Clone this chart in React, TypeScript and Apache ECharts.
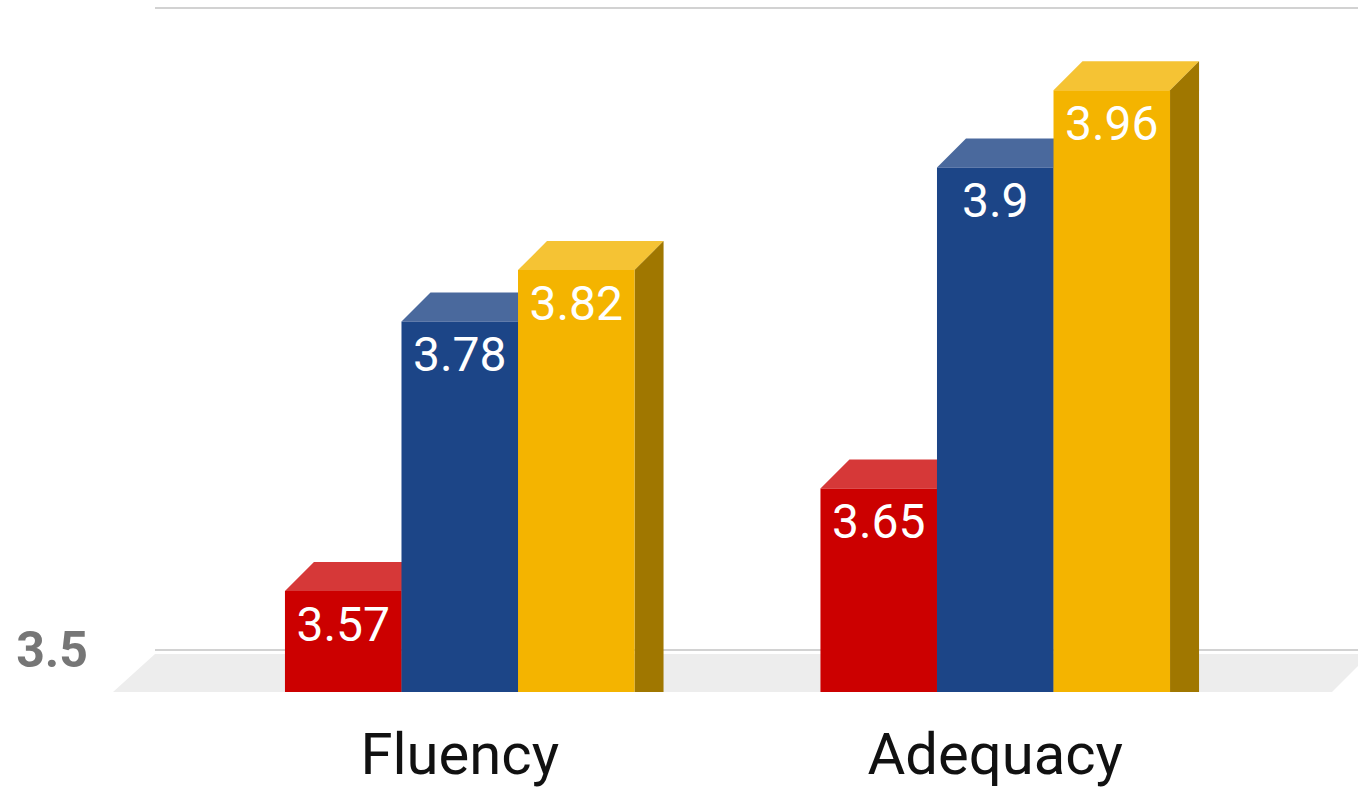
import React, { useEffect, useRef } from "react";
import * as echarts from "echarts";

// Categories and scores
const categories = ["Fluency", "Adequacy"];
const seriesNames = ["Series 1", "Series 2", "Series 3"];
const redValues = [3.57, 3.65];
const blueValues = [3.78, 3.9];
const yellowValues = [3.82, 3.96];
const yMin = 3.5;
const yMax = 4.0;
const yTicks = [3.5, 4.0];

// Face colours for each bar: front, top, side
const palettes = [
  { front: "#CC0000", top: "#D63838", side: "#8E0000" },
  { front: "#1C4587", top: "#4A699D", side: "#132F5D" },
  { front: "#F4B400", top: "#F5C334", side: "#A07700" },
];

const DEPTH = 29; // 3D extrusion of the bars (px)
const BAR_FRACTION = 0.2176; // front face width as share of a category band
const FLOOR_LIP = 11; // floor front edge below the front-plane baseline

function makeBarRenderer(idx: number) {
  const pal = palettes[idx];
  return (params: any, api: any) => {
    const cat = api.value(0);
    const v = api.value(1);
    const top = api.coord([cat, v]);
    const base = api.coord([cat, yMin]);
    const band = api.size([1, 0])[0];
    const w = band * BAR_FRACTION;
    const x0 = top[0] - 1.5 * w + idx * w;
    const x1 = x0 + w;
    const yTop = top[1];
    const yBot = base[1] + FLOOR_LIP;
    const d = DEPTH;
    return {
      type: "group",
      children: [
        {
          type: "polygon",
          shape: { points: [[x0, yTop], [x0 + d, yTop - d], [x1 + d, yTop - d], [x1, yTop]] },
          style: { fill: pal.top },
        },
        {
          type: "polygon",
          shape: { points: [[x1, yTop], [x1 + d, yTop - d], [x1 + d, yBot], [x1, yBot]] },
          style: { fill: pal.side },
        },
        {
          type: "rect",
          shape: { x: x0, y: yTop, width: w, height: yBot - yTop },
          style: { fill: pal.front },
        },
        {
          type: "text",
          style: {
            text: String(v),
            x: x0 + w / 2,
            y: yTop + 9,
            align: "center",
            verticalAlign: "top",
            fill: "#FFFFFF",
            fontFamily: "Roboto",
            fontSize: 48,
          },
        },
      ],
    };
  };
}

// Grey floor slab under the bars
function renderFloor(params: any, api: any) {
  const cs = params.coordSys;
  const base = api.coord([0, yMin]);
  const yFront = base[1] + FLOOR_LIP;
  const yBack = base[1] - 27;
  const left = cs.x;
  const right = cs.x + cs.width;
  return {
    type: "polygon",
    shape: {
      points: [
        [left - 79, yFront],
        [right + 69, yFront],
        [right + 107, yBack],
        [left - 37, yBack],
      ],
    },
    style: { fill: "#EDEDED" },
  };
}

export default function App() {
  const ref = useRef<HTMLDivElement>(null);

  useEffect(() => {
    if (!ref.current) return;
    const chart = echarts.init(ref.current, null, { renderer: "svg" });
    const valueSets = [redValues, blueValues, yellowValues];
    chart.setOption({
      animation: false,
      backgroundColor: "#FFFFFF",
      textStyle: { fontFamily: "Roboto" },
      grid: [
        // back wall: gridlines and the value axis
        { left: 155, right: 0, top: 8, bottom: 142 },
        // front plane: bars and category labels
        { left: 192, right: 95, top: 39, bottom: 111 },
      ],
      xAxis: [
        { gridIndex: 0, type: "value", show: false },
        {
          gridIndex: 1,
          type: "category",
          data: categories,
          axisLine: { show: false },
          axisTick: { show: false },
          axisLabel: {
            fontFamily: "Roboto",
            fontSize: 58,
            color: "#111111",
            margin: 44,
          },
        },
      ],
      yAxis: [
        {
          gridIndex: 0,
          type: "value",
          min: yMin,
          max: yMax,
          interval: yTicks[1] - yTicks[0],
          axisLine: { show: false },
          axisTick: { show: false },
          splitLine: { lineStyle: { color: "#D2D2D2", width: 2 } },
          axisLabel: {
            showMaxLabel: false,
            fontFamily: "Roboto",
            fontWeight: "bold",
            fontSize: 50,
            color: "#767676",
            margin: 67,
            formatter: (val: number) => (yTicks.includes(val) ? String(val) : ""),
          },
        },
        { gridIndex: 1, type: "value", min: yMin, max: yMax, show: false },
      ],
      series: [
        {
          type: "custom",
          name: "floor",
          xAxisIndex: 1,
          yAxisIndex: 1,
          data: [[0, yMin]],
          renderItem: renderFloor,
          silent: true,
          z: 1,
        },
        ...valueSets.map((vals, i) => ({
          type: "custom",
          name: seriesNames[i],
          xAxisIndex: 1,
          yAxisIndex: 1,
          data: vals.map((v, c) => [c, v]),
          renderItem: makeBarRenderer(i),
          z: 2,
        })),
      ],
    });
    return () => chart.dispose();
  }, []);

  return (
    <div
      ref={ref}
      style={{ position: "fixed", left: 0, top: 0, width: 1358, height: 792 }}
    />
  );
}
